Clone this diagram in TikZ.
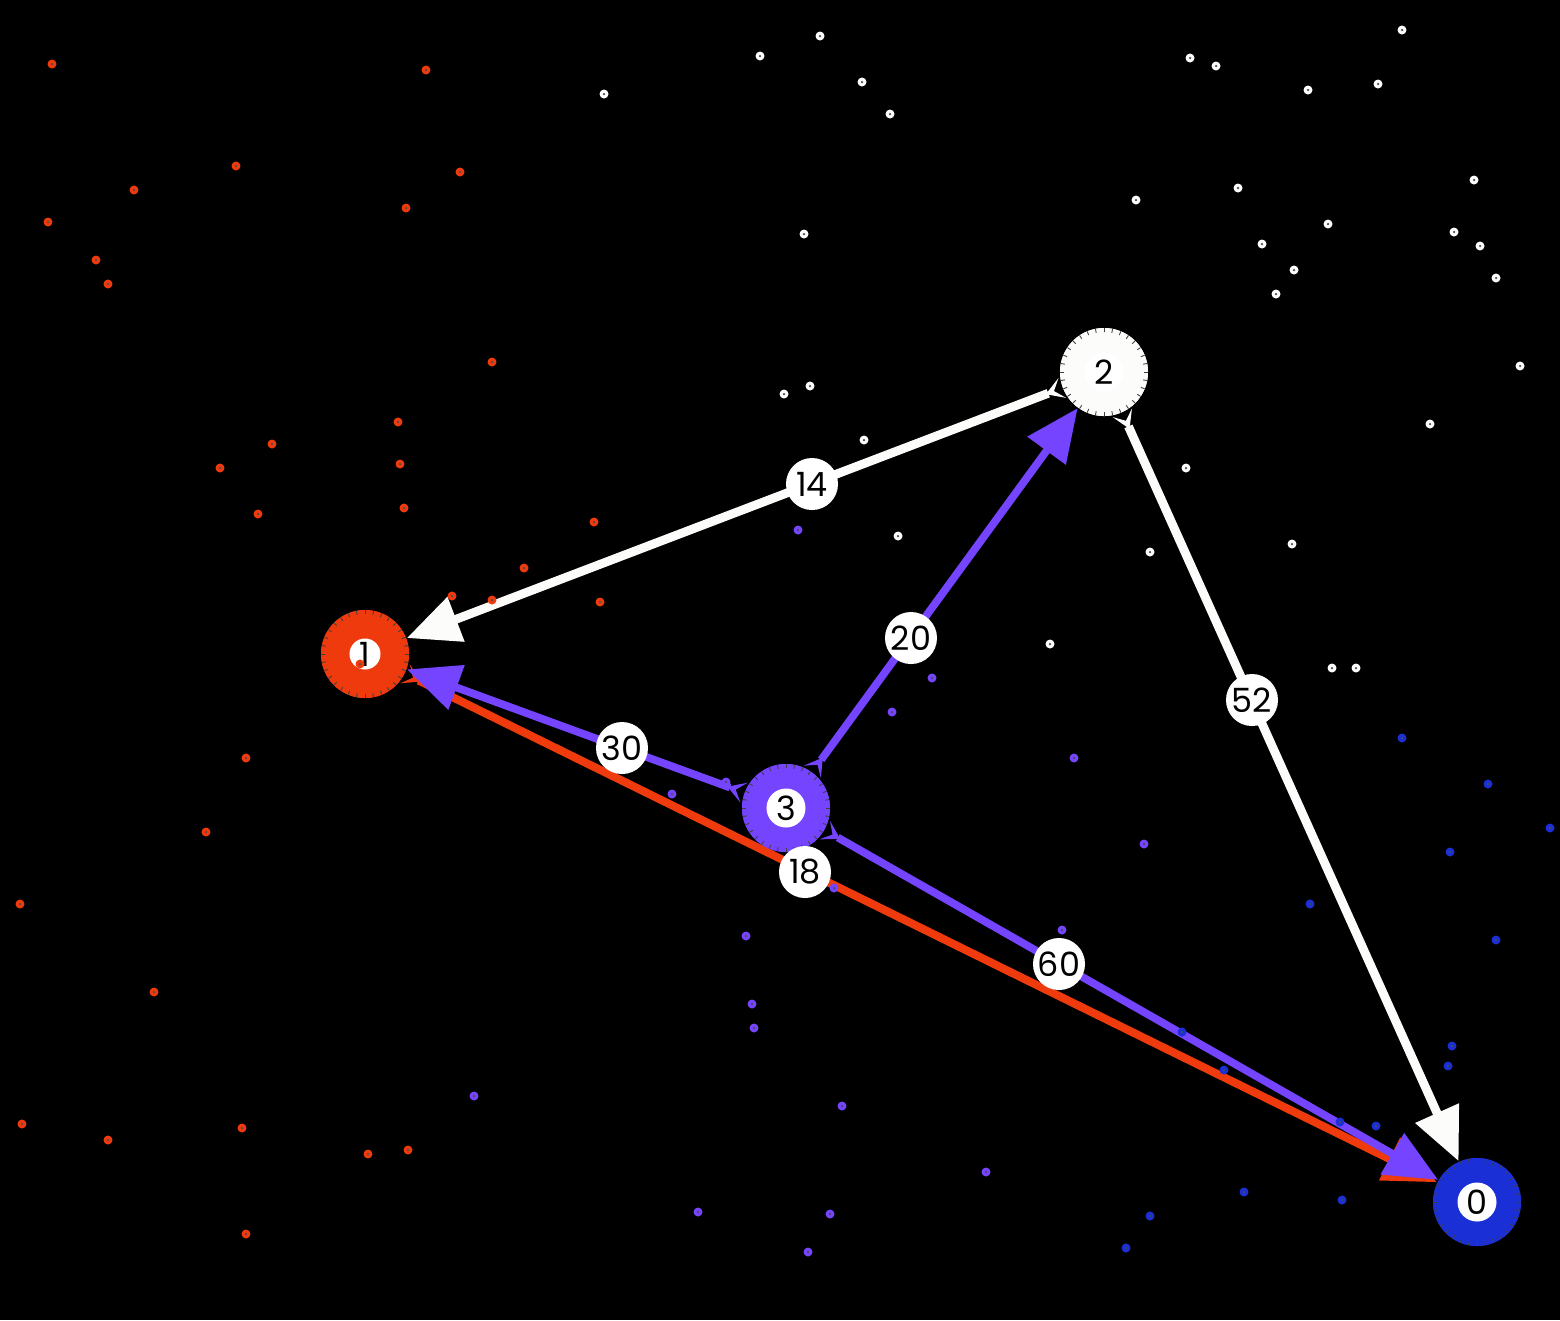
\documentclass[tikz,border=0pt]{standalone}
\usepackage{fontspec}
\setmainfont{Poppins}
\usetikzlibrary{arrows.meta,calc}
\definecolor{cred}{HTML}{EE3A0C}
\definecolor{cwhite}{HTML}{FCFCFA}
\definecolor{cpurple}{HTML}{7444FF}
\definecolor{cblue}{HTML}{1A2FD6}
\begin{document}
\begin{tikzpicture}[x=0.01cm,y=-0.01cm,
  vert/.style={circle,inner sep=0pt,minimum size=0.88cm,fill=#1},
  inner/.style={circle,inner sep=0pt,minimum size=0.39cm,fill=white,text=black,font=\fontsize{9.5}{10}\selectfont},
  lab/.style={circle,inner sep=0pt,minimum size=0.52cm,fill=white,text=black,font=\fontsize{9.5}{10}\selectfont},
  wedge/.style={line width=#1,
    arrows={Stealth[reversed,length=5pt,width=6pt,inset=2.5pt]-Triangle[length=15pt,width=13pt]}},
  dot/.style={circle,inner sep=0pt,minimum size=0.09cm,fill=#1},
  dotc/.style={circle,inner sep=0pt,minimum size=0.025cm,fill=black!70}
]
\fill[black] (0,0) rectangle (1560,1320);
\useasboundingbox (0,0) rectangle (1560,1320);

% vertices
\node[vert=cblue]   (n0) at (1477,1202) {};
\node[vert=cred]    (n1) at (365,654) {};
\node[vert=cwhite]  (n2) at (1104,372) {};
\node[vert=cpurple] (n3) at (786,808) {};

% edges
\draw[wedge=2.5pt,cwhite]  (n2) -- (n1);
\draw[wedge=2.3pt,cred]    (n1) -- (n0);
\draw[wedge=2.2pt,cpurple] (n3) -- (n2);
\draw[wedge=2.2pt,cpurple] (n3) -- (n1);
\draw[wedge=2.2pt,cpurple] (n3) -- (n0);
\draw[wedge=2.5pt,cwhite]  (n2) -- (n0);

% redraw vertices with ticks
\foreach \n/\c in {n0/cblue,n1/cred,n2/cwhite,n3/cpurple}{
  \fill[\c] (\n) circle (44);
  \foreach \a in {0,11.25,...,359}{
    \draw[black!75,line width=0.25pt] ($(\n)+(\a:40)$) -- ($(\n)+(\a:44)$);
  }
}
\node[inner] (i0) at (n0) {0};
\node[inner,minimum size=0.31cm] (i1) at (n1) {1};
\node[inner] (i2) at (n2) {2};
\node[inner] (i3) at (n3) {3};

% edge labels
\node[lab] (l14) at (812,484) {14};
\node[lab] (l20) at (911,638) {20};
\node[lab] (l30) at (622,748) {30};
\node[lab] (l18) at (805,872) {18};
\node[lab] (l60) at (1059,964) {60};
\node[lab] (l52) at (1252,700) {52};

% scattered dots
\foreach \p [count=\k] in {(52,64),(426,70),(236,166),(134,190),(460,172),(48,222),(406,208),(96,260),(108,284),(492,362),(398,422),(272,444),(220,468),(400,464),(258,514),(404,508),(594,522),(524,568),(452,596),(492,600),(600,602),(360,664),(246,758),(206,832),(20,904),(154,992),(22,1124),(108,1140),(242,1128),(368,1154),(408,1150),(246,1234)}{
  \node[dot=cred] (r\k) at \p {}; \node[dotc] at (r\k) {};
}
\foreach \p [count=\k] in {(820,36),(760,56),(604,94),(862,82),(890,114),(1402,30),(1190,58),(1216,66),(1308,90),(1378,84),(1474,180),(1136,200),(1238,188),(804,234),(1328,224),(1454,232),(1480,246),(1262,244),(1294,270),(1276,294),(1496,278),(1520,366),(784,394),(810,386),(864,440),(1430,424),(1186,468),(898,536),(1150,552),(1292,544),(1050,644),(1332,668),(1356,668)}{
  \node[dot=cwhite] (w\k) at \p {}; \node[dotc] at (w\k) {};
}
\foreach \p [count=\k] in {(798,530),(932,678),(892,712),(1074,758),(672,794),(726,782),(834,888),(746,936),(1062,930),(752,1004),(754,1028),(474,1096),(842,1106),(698,1212),(830,1214),(808,1252),(986,1172),(1144,844)}{
  \node[dot=cpurple] (p\k) at \p {}; \node[dotc] at (p\k) {};
}
\foreach \p [count=\k] in {(1402,738),(1488,784),(1550,828),(1450,852),(1310,904),(1496,940),(1182,1032),(1224,1070),(1452,1046),(1448,1066),(1340,1122),(1376,1126),(1244,1192),(1342,1200),(1150,1216),(1126,1248)}{
  \node[dot=cblue] (b\k) at \p {}; \node[dotc] at (b\k) {};
}
\end{tikzpicture}
\end{document}
